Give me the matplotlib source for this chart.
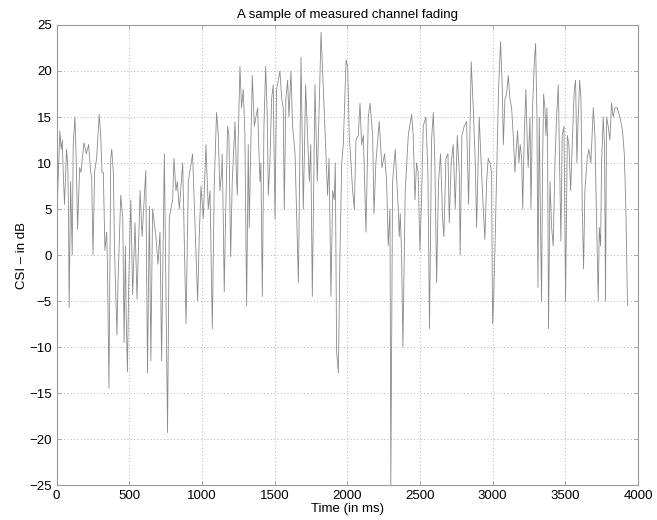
import matplotlib
matplotlib.use("Agg")
import matplotlib.pyplot as plt

# time (ms) and CSI (dB), peaks and troughs
time_ms = [
    0, 23, 32, 40, 46, 55, 69, 78, 83, 87, 97, 108, 115, 127, 136, 145, 159, 168,
    189, 205, 221, 235, 242, 251, 262, 276, 294, 304, 313, 322, 333, 345, 350, 361,
    373, 380, 391, 400, 416, 423, 442, 456, 465, 474, 479, 488, 497, 511, 524, 540,
    554, 575, 589, 614, 626, 639, 649, 661, 684, 698, 712, 723, 742, 764, 776, 787,
    799, 808, 822, 831, 845, 868, 891, 907, 936, 971, 982, 994, 1010, 1028, 1044,
    1056, 1072, 1085, 1101, 1113, 1124, 1136, 1140, 1147, 1154, 1163, 1177, 1186,
    1193, 1198, 1209, 1221, 1228, 1239, 1244, 1250, 1262, 1273, 1285, 1296, 1308,
    1319, 1326, 1338, 1347, 1361, 1372, 1384, 1393, 1400, 1406, 1416, 1427, 1439,
    1450, 1457, 1468, 1480, 1491, 1503, 1514, 1526, 1537, 1549, 1560, 1567, 1578,
    1590, 1599, 1613, 1624, 1633, 1641, 1664, 1682, 1698, 1714, 1739, 1749, 1760,
    1778, 1794, 1820, 1836, 1854, 1865, 1875, 1888, 1900, 1911, 1918, 1927, 1939,
    1950, 1962, 1973, 1992, 2003, 2014, 2026, 2037, 2049, 2060, 2076, 2088, 2099,
    2111, 2129, 2145, 2157, 2175, 2184, 2197, 2220, 2239, 2257, 2271, 2282, 2294,
    2300, 2312, 2330, 2351, 2358, 2365, 2374, 2383, 2399, 2420, 2443, 2454, 2466,
    2477, 2488, 2500, 2511, 2523, 2541, 2555, 2566, 2580, 2592, 2603, 2615, 2628,
    2642, 2656, 2665, 2679, 2693, 2702, 2715, 2729, 2743, 2757, 2771, 2777, 2789,
    2805, 2821, 2835, 2853, 2867, 2881, 2890, 2908, 2924, 2936, 2947, 2959, 2970,
    2982, 2993, 3000, 3007, 3016, 3028, 3041, 3055, 3067, 3074, 3085, 3096, 3108,
    3119, 3131, 3142, 3154, 3165, 3172, 3181, 3190, 3200, 3207, 3218, 3229, 3239,
    3245, 3257, 3264, 3275, 3287, 3296, 3305, 3312, 3321, 3330, 3337, 3344, 3351,
    3360, 3367, 3374, 3378, 3385, 3395, 3406, 3417, 3429, 3440, 3452, 3461, 3470,
    3479, 3491, 3502, 3514, 3525, 3537, 3550, 3562, 3571, 3580, 3587, 3599, 3608,
    3617, 3626, 3635, 3651, 3663, 3676, 3693, 3704, 3715, 3727, 3734, 3743, 3750,
    3761, 3770, 3777, 3784, 3795, 3807, 3818, 3830, 3841, 3857, 3876, 3894, 3906,
    3917, 3928,
]
csi_db = [
    3, 13.5, 11.5, 12.5, 9, 5.5, 11.5, 9.5, 4, -5.7, 8, 0, 12, 15, 10, 2.8, 9.5, 9,
    12.2, 11, 12, 9, 8.5, 0, 9, 10.5, 15.3, 13, 9, 9, 0.5, 2.5, -0.5, -14.5,
    10.5, 11.5, 9, 0, -8.7, -3, 6.5, 4, -9.5, 1, -6, -12.7, -3, 6, -4.3, 3.5,
    -4.8, 7, 2, 9.2, -12.8, 5.3, -11.5, 5, 2, -1, 2.5, -11.5, 11, -19.3, 4, 5,
    6, 10.5, 7, 8, 5, 10, -7.5, 8, 11, -5, 2, 7.5, 4, 12, 5,
    7, -8, 7.5, 15.5, 13, 7, 9, 11, 4, -4, 4, 14, 13,
    5, -0.2, 8, 12, 14.5, 8, 6.5, 12.5, 20.5, 16, 18, 13, -5.5,
    12, 3, 13, 19.5, 14, 15, 16, 11, 8, 10, -4.5, 14, 20.5,
    15, 6.5, 10, 17, 18.5, 3.9, 18, 19, 20, 17, 16, 5, 17,
    19, 15, 20, 14, 12.5, 11, -3, 21.5, 5, 18.5, 8, 12, -4.5,
    18.5, 8, 24.2, 18, 11, 6.5, 10.5, -4.5, 7, 6, 10, -10.5, -12.8,
    0, 10, 12, 21.2, 20.5, 13, 10, 7, 5, 12.5, 13, 16.5, 12,
    13, 2.5, 15, 16.5, 13, 4.5, 10, 14.5, 9.5, 11, 8, 1, 5,
    -25, 8, 11.5, 5, 2, 4.5, 0, -10, 7, 13, 15.3, 13, 6,
    10, 9, 0.5, 6, 14, 15, 9, -8, 12.5, 15.5, 10, -3, 8,
    11, 4, 2, 10.5, 11, 3.5, 10, 12, 5, 13, 9, 0, 13,
    14, 14.5, 5.5, 21, 16, 10, 3, 15, 9, 5, 1.7, 8, 10.5,
    10, 9, -7.5, -5, 0.5, 9, 18, 23.2, 18, 12, 17, 17.5, 19.5,
    17, 16, 13, 9, 12, 13.5, 10, 12, 10.5, 5, 13, 18, 12,
    9.5, 15, 5, 16, 21, 23, 15, -3.5, 15, 3, -5, 10, 17.5,
    16, 13, 16, 12, -8, 8, 3, 1, 10, 15, 18.5, 10, 1.5,
    13, 14, -5, 13, 12, 7, 13, 18, 19, 10, 14, 19, 17,
    5, -1.5, 7, 10.5, 11.5, 10, 16, 13, 4, -5, 3, 1, 10,
    15, 12, -5, 15, 14, 12.5, 16.5, 15, 16, 16, 15, 13.5, 11,
    5, -5.5,
]

x_ticks = [0, 500, 1000, 1500, 2000, 2500, 3000, 3500, 4000]
y_ticks = [-25, -20, -15, -10, -5, 0, 5, 10, 15, 20, 25]

plt.rcParams.update({
    "font.family": ["Liberation Sans", "DejaVu Sans"],
    "font.size": 9.5,
    "xtick.direction": "in",
    "ytick.direction": "in",
    "xtick.top": True,
    "ytick.right": True,
    "xtick.major.size": 3,
    "ytick.major.size": 3,
})

fig = plt.figure(figsize=(6.57, 5.20), dpi=100)
ax = fig.add_axes([0.086, 0.067, 0.885, 0.885])

ax.plot(time_ms, csi_db, color="#8a8a8a", lw=0.6)

ax.set_xlim(0, 4000)
ax.set_ylim(-25, 25)
ax.set_xticks(x_ticks)
ax.set_yticks(y_ticks)
ax.grid(True, linestyle=(0, (1, 3)), color="#999999", lw=0.6)
for sp in ax.spines.values():
    sp.set_color("#9a9a9a")
    sp.set_linewidth(0.8)
ax.tick_params(colors="#9a9a9a", labelcolor="black", width=0.6)

ax.set_title("A sample of measured channel fading", fontsize=9.5, pad=5)
ax.set_xlabel("Time (in ms)", labelpad=1)
ax.set_ylabel("CSI \u2013 in dB", labelpad=1)

fig.savefig("out.png", dpi=100)
